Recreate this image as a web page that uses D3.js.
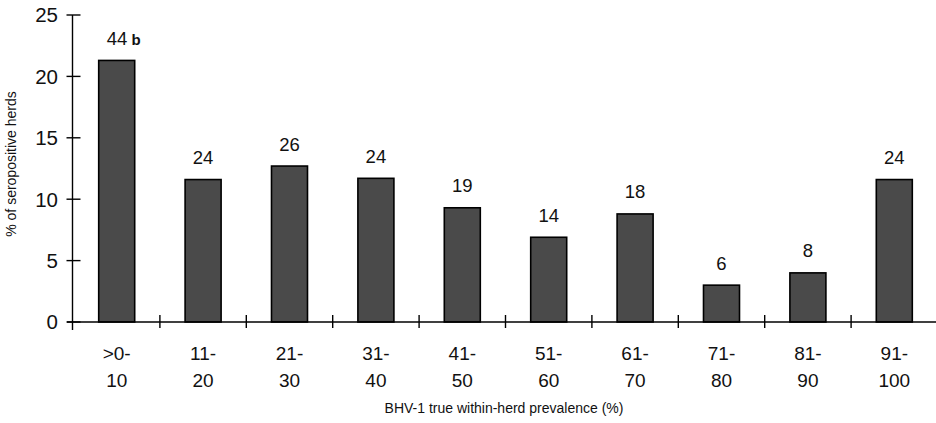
<!DOCTYPE html>
<html><head><meta charset="utf-8">
<script src="https://cdn.jsdelivr.net/npm/d3@7"></script>
<style>body{margin:0;background:#fff}text{font-family:"Liberation Sans",Arial,sans-serif;fill:#111}</style>
</head><body>
<svg id="c" width="936" height="423"></svg>
<script>
const categories = [">0-|10","11-|20","21-|30","31-|40","41-|50","51-|60","61-|70","71-|80","81-|90","91-|100"];
const values = [21.3, 11.6, 12.7, 11.7, 9.3, 6.9, 8.8, 3.0, 4.0, 11.6];
const counts = ["44","24","26","24","19","14","18","6","8","24"];
const yTicks = [0,5,10,15,20,25];

const svg = d3.select("#c");
const x = d3.scaleBand().domain(categories).range([73.5, 937.5]).paddingInner(0).paddingOuter(0);
const y = d3.scaleLinear().domain([0,25]).range([322,15]);
const bw = 36;

// bars
svg.selectAll("rect.bar").data(values).enter().append("rect")
  .attr("x",(d,i)=>x(categories[i])+x.bandwidth()/2-bw/2)
  .attr("y",d=>y(d)).attr("width",bw).attr("height",d=>y(0)-y(d))
  .attr("fill","#4a4a4a").attr("stroke","#000").attr("stroke-width",1.6);

// value labels
svg.selectAll("text.val").data(values).enter().append("text")
  .attr("x",(d,i)=>x(categories[i])+x.bandwidth()/2)
  .attr("y",d=>y(d)-15.5).attr("text-anchor","middle").attr("font-size",18.5)
  .each(function(d,i){
    const t=d3.select(this);
    if(i===0){
      t.attr("dx",7);
      t.append("tspan").text(counts[i]);
      t.append("tspan").attr("font-size",15).attr("font-weight","bold").text(" b");
    } else t.text(counts[i]);
  });

// y axis
const gy = svg.append("g").attr("transform","translate(72.5,0)");
gy.append("line").attr("x1",0).attr("x2",0).attr("y1",y(25)).attr("y2",330).attr("stroke","#000").attr("stroke-width",1.4);
gy.selectAll("line.t").data(yTicks).enter().append("line")
  .attr("x1",-6).attr("x2",8).attr("y1",d=>y(d)).attr("y2",d=>y(d)).attr("stroke","#000").attr("stroke-width",1.4);
gy.selectAll("text.t").data(yTicks).enter().append("text")
  .attr("x",-14.5).attr("y",d=>y(d)).attr("dy","0.36em").attr("text-anchor","end").attr("font-size",20.5).text(d=>d);

// x axis
const gx = svg.append("g");
gx.append("line").attr("x1",67).attr("x2",936).attr("y1",y(0)).attr("y2",y(0)).attr("stroke","#000").attr("stroke-width",1.4);
const bounds = categories.slice(1).map(c=>x(c));
gx.selectAll("line.t").data(bounds).enter().append("line")
  .attr("x1",d=>d).attr("x2",d=>d).attr("y1",y(0)-7).attr("y2",y(0)+6).attr("stroke","#000").attr("stroke-width",1.4);
gx.selectAll("text.c").data(categories).enter().append("text")
  .attr("text-anchor","middle").attr("font-size",19)
  .each(function(d){
    const cx = x(d)+x.bandwidth()/2;
    const parts=d.split("|");
    const t=d3.select(this);
    t.append("tspan").attr("x",cx).attr("y",359.5).text(parts[0]);
    t.append("tspan").attr("x",cx).attr("y",387).text(parts[1]);
  });

// axis titles
svg.append("text").attr("x",504).attr("y",413).attr("text-anchor","middle").attr("font-size",14)
  .text("BHV-1 true within-herd prevalence (%)");
svg.append("text").attr("transform","translate(16,164) rotate(-90)").attr("text-anchor","middle").attr("font-size",14)
  .text("% of seropositive herds");
</script>
</body></html>
